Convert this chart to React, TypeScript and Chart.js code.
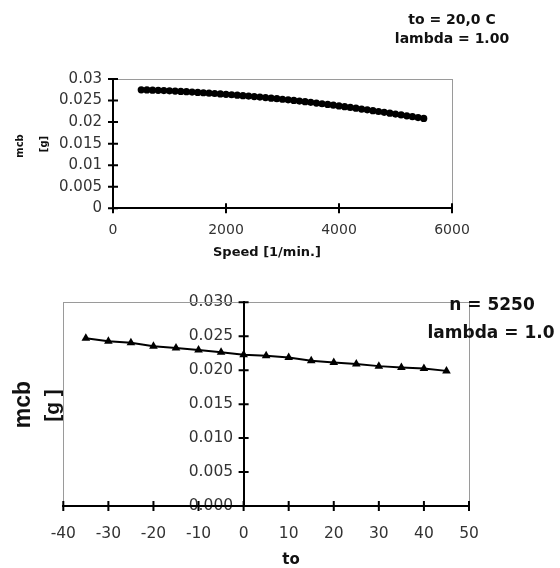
import React, { useEffect, useRef } from "react";
import { Chart, registerables } from "chart.js";

Chart.register(...registerables);

// ---- Top chart: mcb vs speed ----
const speeds = [
  500, 600, 700, 800, 900, 1000, 1100, 1200, 1300, 1400, 1500, 1600, 1700, 1800, 1900, 2000,
  2100, 2200, 2300, 2400, 2500, 2600, 2700, 2800, 2900, 3000, 3100, 3200, 3300, 3400, 3500,
  3600, 3700, 3800, 3900, 4000, 4100, 4200, 4300, 4400, 4500, 4600, 4700, 4800, 4900, 5000,
  5100, 5200, 5300, 5400, 5500,
];
const mcbBySpeed = [
  0.0275, 0.02746, 0.02741, 0.02737, 0.02732, 0.02726,
  0.02719, 0.02712, 0.02705, 0.02697, 0.02689,
  0.02681, 0.02672, 0.02663, 0.02654, 0.02645,
  0.02635, 0.02625, 0.02614, 0.02603, 0.02592,
  0.0258, 0.02568, 0.02556, 0.02543, 0.0253,
  0.02516, 0.02502, 0.02488, 0.02473, 0.02458,
  0.02442, 0.02426, 0.0241, 0.02393, 0.02376,
  0.02358, 0.0234, 0.02322, 0.02303, 0.02284,
  0.02265, 0.02246, 0.02226, 0.02206, 0.02186,
  0.02166, 0.02146, 0.02126, 0.02106, 0.02086,
];
const speedTickLabels = ["0", "2000", "4000", "6000"];
const mcbTickLabelsTop = ["0", "0.005", "0.01", "0.015", "0.02", "0.025", "0.03"];

// ---- Bottom chart: mcb vs to ----
const temps = [-35, -30, -25, -20, -15, -10, -5, 0, 5, 10, 15, 20, 25, 30, 35, 40, 45];
const mcbByTemp = [
  0.02472, 0.02427, 0.02403, 0.02352, 0.02328, 0.02299, 0.02263, 0.02228, 0.02213,
  0.02188, 0.02139, 0.02113, 0.0209, 0.0206, 0.02039, 0.02024, 0.0199,
];
const tempTickLabels = ["-40", "-30", "-20", "-10", "0", "10", "20", "30", "40", "50"];
const mcbTickLabelsBottom = ["0.000", "0.005", "0.010", "0.015", "0.020", "0.025", "0.030"];

type Txt = { t: string; x: number; y: number; font: string; rot?: number };

const framePlugin = {
  id: "frame",
  beforeDraw(chart: any) {
    const { ctx, chartArea: a } = chart;
    ctx.save();
    ctx.strokeStyle = "#9a9a9a";
    ctx.lineWidth = 1;
    ctx.strokeRect(Math.round(a.left) + 0.5, Math.round(a.top) + 0.5, Math.round(a.right - a.left), Math.round(a.bottom - a.top));
    ctx.restore();
  },
};

// y tick labels for an axis that crosses at x = 0 (drawn beside that axis line)
const centerYLabelsPlugin = (labels: string[], gap: number, size: number) => ({
  id: "centerYLabels",
  beforeDraw(chart: any) {
    const { ctx } = chart;
    const xs = chart.scales.x;
    const ys = chart.scales.y;
    const axisX = xs.getPixelForValue(0);
    ctx.save();
    ctx.font = `${size}px 'DejaVu Sans'`;
    ctx.fillStyle = "#333";
    ctx.textAlign = "right";
    ctx.textBaseline = "middle";
    ys.ticks.forEach((_t: any, i: number) => {
      ctx.fillText(labels[i], axisX - gap, ys.getPixelForTick(i));
    });
    ctx.restore();
  },
});

const crossTicksPlugin = {
  id: "crossTicks",
  beforeDatasetsDraw(chart: any) {
    const { ctx } = chart;
    const xs = chart.scales.x;
    const ys = chart.scales.y;
    const xAxisY = ys.getPixelForValue(0);
    const yAxisX = xs.getPixelForValue(0);
    const len = 5;
    ctx.save();
    ctx.strokeStyle = "#000";
    ctx.lineWidth = 2;
    ctx.beginPath();
    xs.ticks.forEach((_t: any, i: number) => {
      const px = xs.getPixelForTick(i);
      ctx.moveTo(px, xAxisY - len);
      ctx.lineTo(px, xAxisY + len);
    });
    ys.ticks.forEach((_t: any, i: number) => {
      const py = ys.getPixelForTick(i);
      ctx.moveTo(yAxisX - len, py);
      ctx.lineTo(yAxisX + len, py);
    });
    ctx.stroke();
    ctx.restore();
  },
};

const textsPlugin = (items: Txt[]) => ({
  id: "texts",
  afterDraw(chart: any) {
    const { ctx } = chart;
    items.forEach((it) => {
      ctx.save();
      ctx.translate(it.x, it.y);
      if (it.rot) ctx.rotate(it.rot);
      ctx.font = it.font;
      ctx.fillStyle = "#111";
      ctx.textAlign = "center";
      ctx.textBaseline = "middle";
      ctx.fillText(it.t, 0, 0);
      ctx.restore();
    });
  },
});

const axisStyle = (labels: string[], size: number, padding: number, stepSize: number, show = true) => ({
  grid: { display: true, drawOnChartArea: false, drawTicks: false },
  border: { display: true, color: "#000", width: 2 },
  ticks: {
    display: show,
    stepSize,
    padding,
    color: "#333",
    font: { family: "DejaVu Sans", size },
    callback: (_v: any, i: number) => labels[i],
  },
});

function TopChart() {
  const ref = useRef<HTMLCanvasElement>(null);
  useEffect(() => {
    if (!ref.current) return;
    const chart = new Chart(ref.current, {
      type: "line",
      data: {
        datasets: [
          {
            data: speeds.map((s, i) => ({ x: s, y: mcbBySpeed[i] })),
            borderColor: "#000",
            borderWidth: 2,
            pointRadius: 3.6,
            pointBackgroundColor: "#000",
            pointBorderColor: "#000",
            pointBorderWidth: 0,
          },
        ],
      },
      options: {
        animation: false,
        responsive: false,
        events: [],
        layout: { padding: { left: 0, right: 108, top: 79, bottom: 0 } },
        plugins: { legend: { display: false }, tooltip: { enabled: false } },
        scales: {
          x: {
            type: "linear",
            min: 0,
            max: 6000,
            ...axisStyle(speedTickLabels, 14, 14, 2000),
            afterFit: (s: any) => {
              s.height = 61.7;
            },
          },
          y: {
            type: "linear",
            min: 0,
            max: 0.03,
            ...axisStyle(mcbTickLabelsTop, 15, 11, 0.005),
            afterFit: (s: any) => {
              s.width = 113;
            },
          },
        },
      } as any,
      plugins: [
        framePlugin,
        crossTicksPlugin,
        textsPlugin([
          { t: "to = 20,0 C", x: 452, y: 20, font: "bold 14px 'DejaVu Sans'" },
          { t: "lambda = 1.00", x: 452, y: 39.5, font: "bold 14px 'DejaVu Sans'" },
          { t: "Speed [1/min.]", x: 267, y: 252.5, font: "bold 13px 'DejaVu Sans'" },
          { t: "mcb", x: 20.5, y: 146, font: "bold 10px 'DejaVu Sans'", rot: -Math.PI / 2 },
          { t: "[g]", x: 44, y: 144, font: "bold 10px 'DejaVu Sans'", rot: -Math.PI / 2 },
        ]),
      ],
    });
    return () => chart.destroy();
  }, []);
  return <canvas ref={ref} width={560} height={270} style={{ position: "absolute", left: 0, top: 0, width: 560, height: 270 }} />;
}

function BottomChart() {
  const ref = useRef<HTMLCanvasElement>(null);
  useEffect(() => {
    if (!ref.current) return;
    const chart = new Chart(ref.current, {
      type: "line",
      data: {
        datasets: [
          {
            data: temps.map((t, i) => ({ x: t, y: mcbByTemp[i] })),
            borderColor: "#000",
            borderWidth: 2,
            pointStyle: "triangle",
            pointRadius: 5,
            pointBackgroundColor: "#000",
            pointBorderColor: "#000",
            pointBorderWidth: 0,
          },
        ],
      },
      options: {
        animation: false,
        responsive: false,
        events: [],
        layout: { padding: { left: 63.3, right: 91, top: 32.3, bottom: 0 } },
        plugins: { legend: { display: false }, tooltip: { enabled: false } },
        scales: {
          x: {
            type: "linear",
            min: -40,
            max: 50,
            ...axisStyle(tempTickLabels, 15.5, 18.5, 10),
            afterFit: (s: any) => {
              s.height = 62;
            },
          },
          y: {
            type: "linear",
            position: { x: 0 },
            min: 0,
            max: 0.03,
            ...axisStyle(mcbTickLabelsBottom, 15.5, 0, 0.005, false),
          },
        },
      } as any,
      plugins: [
        centerYLabelsPlugin(mcbTickLabelsBottom, 10.5, 15.5),
        framePlugin,
        crossTicksPlugin,
        textsPlugin([
          { t: "n = 5250", x: 492, y: 36, font: "bold 17px 'DejaVu Sans'" },
          { t: "lambda = 1.0", x: 491, y: 63.5, font: "bold 17px 'DejaVu Sans'" },
          { t: "to", x: 291, y: 290, font: "bold 15px 'DejaVu Sans'" },
          { t: "mcb", x: 23.5, y: 134.5, font: "bold 23px 'Liberation Sans'", rot: -Math.PI / 2 },
          { t: "[g ]", x: 53.5, y: 135.5, font: "bold 21px 'Liberation Sans'", rot: -Math.PI / 2 },
        ]),
      ],
    });
    return () => chart.destroy();
  }, []);
  return <canvas ref={ref} width={560} height={298} style={{ position: "absolute", left: 0, top: 270, width: 560, height: 298 }} />;
}

export default function App() {
  return (
    <div style={{ position: "absolute", left: 0, top: 0, width: 560, height: 568, background: "#fff", overflow: "hidden" }}>
      <TopChart />
      <BottomChart />
    </div>
  );
}
